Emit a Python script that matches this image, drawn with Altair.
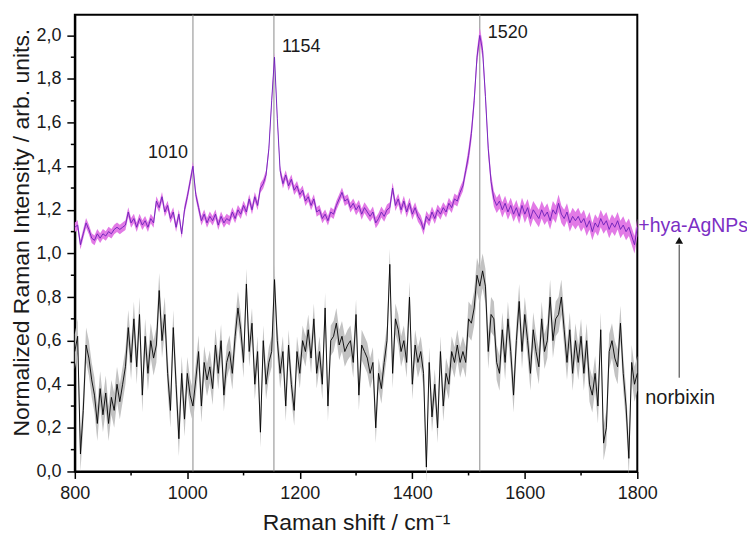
import altair as alt
import pandas as pd

# ---------------- data ----------------
wavenumber_start = 800
wavenumber_step = 5

# +hya-AgNPs spectrum, one row = 50 cm-1 (800..1795), then 1800
hya_agnps = [
    1.12, 1.13, 1.04, 1.09, 1.14, 1.11, 1.07, 1.06, 1.09, 1.07,
    1.09, 1.08, 1.10, 1.09, 1.11, 1.12, 1.11, 1.12, 1.13, 1.19,
    1.14, 1.16, 1.12, 1.16, 1.13, 1.15, 1.12, 1.16, 1.14, 1.24,
    1.21, 1.26, 1.19, 1.22, 1.16, 1.19, 1.12, 1.18, 1.09, 1.20,
    1.26, 1.33, 1.40, 1.27, 1.21, 1.15, 1.18, 1.14, 1.17, 1.15,
    1.18, 1.13, 1.17, 1.14, 1.16, 1.15, 1.19, 1.16, 1.20, 1.18,
    1.22, 1.19, 1.25, 1.20, 1.26, 1.22, 1.30, 1.32, 1.36, 1.48,
    1.70, 1.90, 1.62, 1.38, 1.32, 1.36, 1.31, 1.34, 1.29, 1.31,
    1.27, 1.29, 1.24, 1.26, 1.22, 1.25, 1.19, 1.20, 1.16, 1.18,
    1.15, 1.19, 1.18, 1.22, 1.25, 1.28, 1.24, 1.25, 1.21, 1.23,
    1.20, 1.22, 1.18, 1.21, 1.19, 1.17, 1.19, 1.14, 1.16, 1.19,
    1.17, 1.20, 1.21, 1.30, 1.22, 1.25, 1.20, 1.24, 1.19, 1.23,
    1.18, 1.21, 1.17, 1.15, 1.11, 1.17, 1.15, 1.19, 1.16, 1.20,
    1.18, 1.21, 1.19, 1.23, 1.21, 1.25, 1.24, 1.28, 1.31, 1.38,
    1.45, 1.55, 1.70, 1.90, 2.00, 1.93, 1.72, 1.48, 1.33, 1.25,
    1.22, 1.24, 1.20, 1.23, 1.19, 1.22, 1.18, 1.21, 1.17, 1.22,
    1.18, 1.21, 1.16, 1.20, 1.18, 1.16, 1.20, 1.17, 1.19, 1.15,
    1.20, 1.18, 1.23, 1.18, 1.16, 1.19, 1.14, 1.17, 1.15, 1.17,
    1.14, 1.16, 1.12, 1.15, 1.10, 1.14, 1.12, 1.16, 1.13, 1.15,
    1.11, 1.14, 1.12, 1.15, 1.11, 1.13, 1.10, 1.12, 1.08, 1.04,
    1.12,
]

# norbixin spectrum, same grid
norbixin = [
    0.55, 0.62, 0.08, 0.28, 0.58, 0.52, 0.42, 0.35, 0.22, 0.38,
    0.26, 0.36, 0.22, 0.34, 0.28, 0.40, 0.32, 0.40, 0.48, 0.66,
    0.50, 0.70, 0.48, 0.72, 0.35, 0.62, 0.45, 0.60, 0.52, 0.58,
    0.83, 0.60, 0.72, 0.45, 0.28, 0.66, 0.40, 0.15, 0.45, 0.24,
    0.45, 0.35, 0.30, 0.42, 0.55, 0.30, 0.50, 0.42, 0.48, 0.38,
    0.58, 0.45, 0.60, 0.35, 0.50, 0.55, 0.45, 0.62, 0.75, 0.65,
    0.50, 0.86, 0.55, 0.68, 0.40, 0.55, 0.18, 0.60, 0.40, 0.50,
    0.55, 0.88, 0.60, 0.45, 0.55, 0.30, 0.58, 0.40, 0.28, 0.55,
    0.45, 0.60, 0.55, 0.65, 0.52, 0.70, 0.45, 0.55, 0.40, 0.75,
    0.30, 0.60, 0.62, 0.68, 0.58, 0.62, 0.55, 0.58, 0.60, 0.50,
    0.72, 0.35, 0.58, 0.55, 0.52, 0.45, 0.50, 0.20, 0.45, 0.38,
    0.50, 0.60, 0.95, 0.45, 0.70, 0.65, 0.55, 0.60, 0.50, 0.80,
    0.40, 0.58, 0.50, 0.55, 0.45, 0.02, 0.50, 0.25, 0.40, 0.20,
    0.55, 0.30, 0.45, 0.40, 0.55, 0.50, 0.58, 0.50, 0.55, 0.50,
    0.70, 0.68, 0.75, 0.90, 0.85, 0.92, 0.85, 0.55, 0.72, 0.70,
    0.50, 0.45, 0.65, 0.50, 0.70, 0.55, 0.35, 0.60, 0.78, 0.55,
    0.72, 0.60, 0.45, 0.65, 0.55, 0.48, 0.70, 0.55, 0.60, 0.80,
    0.60, 0.70, 0.72, 0.80, 0.65, 0.50, 0.65, 0.45, 0.60, 0.50,
    0.62, 0.45, 0.60, 0.40, 0.35, 0.45, 0.30, 0.65, 0.13, 0.20,
    0.55, 0.60, 0.52, 0.48, 0.68, 0.45, 0.30, 0.06, 0.50, 0.40,
    0.45,
]

# half-width of the shaded (std) bands, one value per 100 cm-1 segment
hya_spread = [0.022, 0.022, 0.022, 0.022, 0.022, 0.025, 0.025, 0.035, 0.04, 0.04]
norbixin_spread = [0.08, 0.08, 0.075, 0.07, 0.07, 0.07, 0.07, 0.08, 0.08, 0.08]

peak_positions = [1010, 1154, 1520]
peak_names = ["1010", "1154", "1520"]
peak_label_heights = [1.44, 1.925, 1.99]

series_labels = ["+hya-AgNPs", "norbixin"]
series_label_heights = [1.097, 0.31]
arrow_x = 1874.5
arrow_from = 0.43
arrow_to = 1.04
arrow_tip = 1.06

x_ticks = [800, 1000, 1200, 1400, 1600, 1800]
x_minor = [900, 1100, 1300, 1500, 1700]
y_ticks = [0.0, 0.2, 0.4, 0.6, 0.8, 1.0, 1.2, 1.4, 1.6, 1.8, 2.0]
y_minor = [0.1, 0.3, 0.5, 0.7, 0.9, 1.1, 1.3, 1.5, 1.7, 1.9]

# ---------------- tables ----------------
rows = []
for i, (h, n) in enumerate(zip(hya_agnps, norbixin)):
    seg = min(i // 20, 9)
    rows.append({
        "x": wavenumber_start + wavenumber_step * i,
        "hya": h, "hya_lo": h - hya_spread[seg], "hya_hi": h + hya_spread[seg],
        "nor": n, "nor_lo": n - norbixin_spread[seg], "nor_hi": n + norbixin_spread[seg],
    })
df = pd.DataFrame(rows)
peaks_df = pd.DataFrame({"x": peak_positions, "label": peak_names, "y": peak_label_heights})
xminor_df = pd.DataFrame({"x": x_minor})
yminor_df = pd.DataFrame({"y": y_minor})
arrow_df = pd.DataFrame({"x": [arrow_x], "y": [arrow_from], "y2": [arrow_to], "tip": [arrow_tip]})
lab_df = pd.DataFrame({"x": [1800, 1800], "y": series_label_heights, "label": series_labels})

W, H = 564, 458
FONT = "Liberation Sans"
TXT = "#1a1a1a"
PURPLE_TXT = "#7b2fc4"

xscale = alt.Scale(domain=[800, 1800], nice=False, zero=False)
yscale = alt.Scale(domain=[0, 2.095], nice=False, zero=False)

xaxis = alt.Axis(values=x_ticks, title="Raman shift / cm⁻¹", grid=False,
                 tickSize=7, tickWidth=1.5, domainWidth=2, labelPadding=6,
                 labelFlush=False, labelOverlap=False,
                 labelFontSize=18, titleFontSize=23, titleFontWeight="normal",
                 titleX=W / 2, titleY=58, titleBaseline="alphabetic", titleAlign="center",
                 labelFont=FONT, titleFont=FONT, labelColor=TXT, titleColor=TXT,
                 domainColor="black", tickColor="black", format="d")
yaxis = alt.Axis(values=y_ticks, title="Normalized Raman Intensity / arb. units.", grid=False,
                 labelExpr="replace(format(datum.value, '.1f'), '.', ',')",
                 labelFlush=False, labelOverlap=False,
                 tickSize=8, tickWidth=1.5, domainWidth=2, labelPadding=6,
                 labelFontSize=18, titleFontSize=23, titleFontWeight="normal",
                 titleX=-46, titleY=218, titleAngle=-90, titleBaseline="alphabetic",
                 titleAlign="center",
                 labelFont=FONT, titleFont=FONT, labelColor=TXT, titleColor=TXT,
                 domainColor="black", tickColor="black")


def X(field="x"):
    return alt.X(f"{field}:Q", scale=xscale, axis=xaxis)


def Y(field):
    return alt.Y(f"{field}:Q", scale=yscale, axis=yaxis)


base = alt.Chart(df)

nor_band = base.mark_area(color="#c2c2c2", opacity=1).encode(x=X(), y=Y("nor_lo"), y2="nor_hi:Q")
nor_line = base.mark_line(color="black", strokeWidth=0.9).encode(x=X(), y=Y("nor"))
hya_band = base.mark_area(color="#e27ae6", opacity=1).encode(x=X(), y=Y("hya_lo"), y2="hya_hi:Q")
hya_line = base.mark_line(color="#6a1fb8", strokeWidth=0.9).encode(x=X(), y=Y("hya"))

vlines = alt.Chart(peaks_df).mark_rule(color="#8a8a8a", strokeWidth=1).encode(x=X())

peak_left = alt.Chart(peaks_df[peaks_df.x == 1010]).mark_text(
    align="right", baseline="alphabetic", dx=-5, fontSize=18, font=FONT, color=TXT
).encode(x=X(), y=Y("y"), text="label:N")
peak_right = alt.Chart(peaks_df[peaks_df.x != 1010]).mark_text(
    align="left", baseline="alphabetic", dx=8, fontSize=18, font=FONT, color=TXT
).encode(x=X(), y=Y("y"), text="label:N")

xminor = alt.Chart(xminor_df).mark_rule(color="black", strokeWidth=1.5).encode(
    x=X(), y=alt.value(H), y2=alt.value(H + 4))
yminor = alt.Chart(yminor_df).mark_rule(color="black", strokeWidth=1.5).encode(
    y=Y("y"), x=alt.value(0), x2=alt.value(-4))

hya_label = alt.Chart(lab_df.iloc[[0]]).mark_text(
    align="left", baseline="alphabetic", dx=1, fontSize=19.5, font=FONT, color=PURPLE_TXT
).encode(x=X(), y=Y("y"), text="label:N")
nor_label = alt.Chart(lab_df.iloc[[1]]).mark_text(
    align="left", baseline="alphabetic", dx=8, fontSize=20, font=FONT, color=TXT
).encode(x=X(), y=Y("y"), text="label:N")

arrow_shaft = alt.Chart(arrow_df).mark_rule(color="#333333", strokeWidth=1).encode(
    x=X(), y=Y("y"), y2="y2:Q")
arrow_head = alt.Chart(arrow_df).mark_point(shape="triangle-up", filled=True, size=60,
                                            color="#111111", opacity=1).encode(
    x=X(), y=Y("tip"))

chart = alt.layer(
    vlines, nor_band, nor_line, hya_band, hya_line,
    peak_left, peak_right, xminor, yminor,
    hya_label, nor_label, arrow_shaft, arrow_head,
).properties(
    width=W, height=H,
    padding={"left": 67, "top": 6, "right": 110, "bottom": 62},
    autosize=alt.AutoSizeParams(type="none"),
).configure(
    background="white",
    view=alt.ViewConfig(stroke="black", strokeWidth=2),
)

chart.save("out.html", embed_options={"renderer": "svg", "actions": False})
